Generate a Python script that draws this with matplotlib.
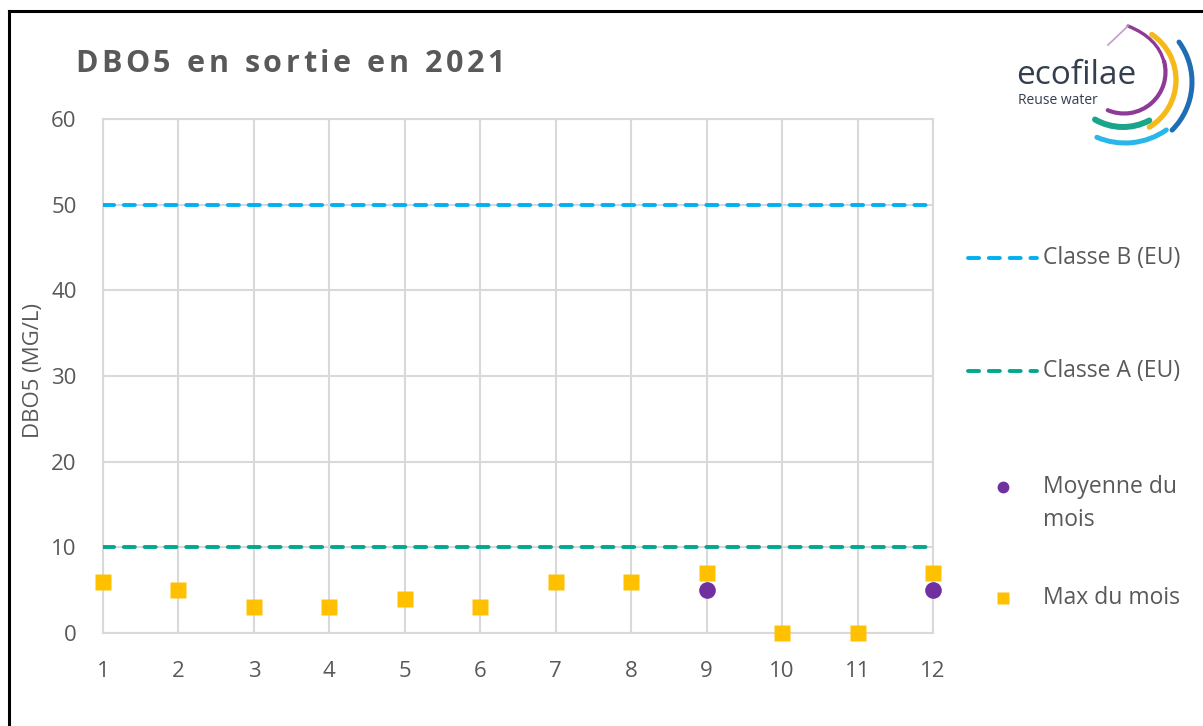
import matplotlib
matplotlib.use("Agg")
import matplotlib.pyplot as plt
from matplotlib.patches import Arc, PathPatch
from matplotlib.path import Path
from matplotlib.lines import Line2D

plt.rcParams['font.family'] = ['Open Sans', 'DejaVu Sans']

# donnees DBO5 2021
mois = [1, 2, 3, 4, 5, 6, 7, 8, 9, 10, 11, 12]
max_mois = [6, 5, 3, 3, 4, 3, 6, 6, 7, 0, 0, 7]
mois_moyenne = [9, 12]
moyenne_mois = [5, 5]
seuil_classe_b = 50
seuil_classe_a = 10

gris = '#595959'
c_grille = '#D9D9D9'
c_b = '#00B0F0'
c_a = '#00A88F'
c_moy = '#7030A0'
c_max = '#FFC000'
tirets = dict(lw=2.8, dashes=(2.85, 2.5), dash_capstyle='round')

W, H = 1203, 726
fig = plt.figure(figsize=(W / 100, H / 100), dpi=100)
ax = fig.add_axes([103 / W, 1 - 633 / H, 830 / W, 514 / H])

ax.axhline(seuil_classe_b, color=c_b, zorder=3, **tirets)
ax.axhline(seuil_classe_a, color=c_a, zorder=3, **tirets)
ax.plot(mois, max_mois, 's', color=c_max, ms=12, mec='none', zorder=4, clip_on=False)
ax.plot(mois_moyenne, moyenne_mois, 'o', color=c_moy, ms=12, mec='none', zorder=5, clip_on=False)

ax.set_xlim(1, 12)
ax.set_ylim(0, 60)
ax.set_xticks(mois)
ax.set_yticks(range(0, 61, 10))
ax.grid(True, color=c_grille, lw=1.5)
ax.set_axisbelow(True)
for sp in ax.spines.values():
    sp.set_color(c_grille)
    sp.set_linewidth(1.5)
ax.tick_params(length=0, labelsize=16, labelcolor=gris)
ax.tick_params(axis='x', pad=20)
ax.tick_params(axis='y', pad=19)

fig.text(33 / W, 1 - 370 / H, 'DBO5 (MG/L)', rotation=90, ha='center', va='center',
         fontsize=16, color=gris)

# calque en pixels pour cadre, titre, legende et logo
ov = fig.add_axes([0, 0, 1, 1], zorder=10)
ov.set_xlim(0, W)
ov.set_ylim(0, H)
ov.axis('off')
ov.patch.set_alpha(0)

ov.plot([9, 9], [0, H - 11], color='black', lw=2.2, solid_capstyle='projecting')
ov.plot([9, W], [H - 11, H - 11], color='black', lw=2.2, solid_capstyle='projecting')

# titre avec espacement des lettres
titre = 'DBO5 en sortie en 2021'
r = fig.canvas.get_renderer()
objs = []
largeurs = []
for ch in titre:
    t = ov.text(0, H - 72, ch if ch != ' ' else 'n', fontsize=22, fontweight='bold',
                color=gris, va='baseline', ha='left')
    w = t.get_window_extent(r).width
    largeurs.append(w if ch != ' ' else 9)
    objs.append(t)
track = (430 - sum(largeurs)) / (len(titre) - 1)
x = 75
for ch, t, w in zip(titre, objs, largeurs):
    if ch == ' ':
        t.set_visible(False)
    t.set_x(x)
    x += w + track

# legende
ov.add_line(Line2D([968, 1037], [H - 258, H - 258], color=c_b, **tirets))
ov.text(1043, H - 258, 'Classe B (EU)', fontsize=16.5, color=gris, va='center')
ov.add_line(Line2D([968, 1037], [H - 371, H - 371], color=c_a, **tirets))
ov.text(1043, H - 371, 'Classe A (EU)', fontsize=16.5, color=gris, va='center')
ov.plot([1003], [H - 487], 'o', color=c_moy, ms=8.5, mec='none')
ov.text(1043, H - 487, 'Moyenne du', fontsize=16.5, color=gris, va='center')
ov.text(1043, H - 520, 'mois', fontsize=16.5, color=gris, va='center')
ov.plot([1003], [H - 598], 's', color=c_max, ms=8, mec='none')
ov.text(1043, H - 598, 'Max du mois', fontsize=16.5, color=gris, va='center')

# logo ecofilae
violet = '#8E3A96'
ov.add_patch(Arc((1124, H - 72), 83, 83, theta1=247, theta2=15, color=violet, lw=3,
                 capstyle='round'))
goutte = Path([(1164, H - 62), (1158, H - 38), (1128, H - 26)],
              [Path.MOVETO, Path.CURVE3, Path.CURVE3])
ov.add_patch(PathPatch(goutte, fill=False, edgecolor=violet, lw=2.4, capstyle='round'))
ov.plot([1128, 1108], [H - 26, H - 45], color='#C59BCB', lw=1.2)
ov.add_patch(Arc((1121, H - 80), 110, 110, theta1=-59, theta2=56, color='#F6B919', lw=3.8,
                 capstyle='round'))
ov.add_patch(Arc((1124, H - 82), 136, 136, theta1=-45, theta2=36, color='#1F6DB5', lw=3.6,
                 capstyle='round'))
ov.add_patch(Arc((1123, H - 71), 112, 112, theta1=240, theta2=298, color='#1AA48A', lw=4.3,
                 capstyle='round'))
ov.add_patch(Arc((1125, H - 71), 144, 144, theta1=247, theta2=305, color='#29B6E8', lw=3.6,
                 capstyle='round'))
ov.text(1016, H - 84, 'ecofilae', fontsize=24, color='#333F4F', va='baseline')
ov.text(1018, H - 104, 'Reuse water', fontsize=10, color='#333F4F', va='baseline')

fig.savefig('out.png', dpi=100)
